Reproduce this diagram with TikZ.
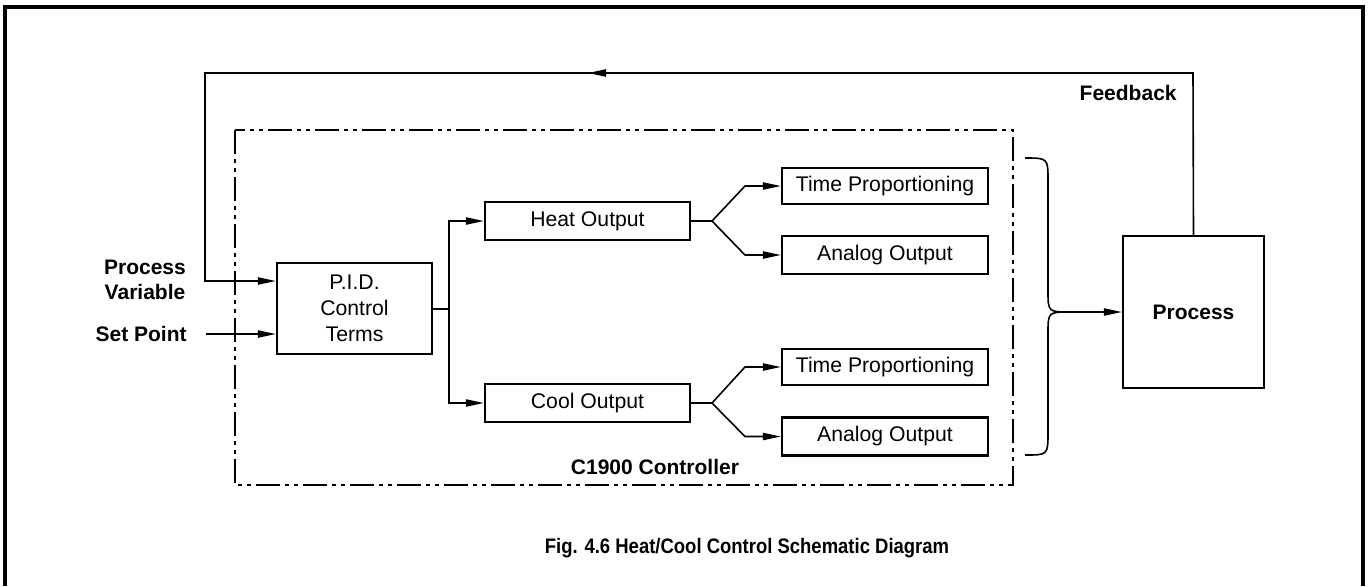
\documentclass[tikz,border=0pt]{standalone}
\usepackage{fontspec}
\usepackage{graphicx}
\setmainfont{Liberation Sans}
\usetikzlibrary{arrows.meta}
\begin{document}
\begin{tikzpicture}[x=0.5pt,y=-0.5pt,
  blk/.style={draw,line width=1.1pt,inner sep=0pt,font=\fontsize{10.6}{13}\selectfont,align=center},
  conn/.style={line width=0.8pt},
  arr/.style={conn,-{Triangle[length=9pt,width=3.6pt]}},
  lbl/.style={font=\fontsize{10.5}{12.5}\selectfont\bfseries,inner sep=0pt,align=center},
  dashdot/.style={line width=1.1pt,dash pattern=on 12pt off 2.5pt on 2pt off 2.5pt on 2pt off 2.5pt}]
\useasboundingbox (0,0) rectangle (1372,586);
% frame
\draw[line width=1.6pt] (5,586) -- (5,7) -- (1363,7) -- (1363,586);
% controller boundary
\draw[dashdot] (235,130) rectangle (1013,485);
% blocks
\node[blk,minimum width=77.5pt,minimum height=45.5pt] (pid) at (354.5,308.5) {P.I.D.\\Control\\Terms};
\node[blk,minimum width=102.5pt,minimum height=19pt] (heat) at (587.5,221) {Heat Output};
\node[blk,minimum width=102.5pt,minimum height=19pt] (cool) at (587.5,403) {Cool Output};
\node[blk,minimum width=103pt,minimum height=18pt] (tp1) at (885,186) {Time Proportioning};
\node[blk,minimum width=103pt,minimum height=19pt] (an1) at (885,255) {Analog Output};
\node[blk,minimum width=103pt,minimum height=18pt] (tp2) at (885,367) {Time Proportioning};
\node[blk,minimum width=103pt,minimum height=19pt] (an2) at (885,436.5) {Analog Output};
\node[blk,minimum width=70.5pt,minimum height=76pt,font=\fontsize{10.5}{12}\selectfont\bfseries] (proc) at (1193.5,312) {Process};
% labels
\node[lbl] (pv) at (145,280) {Process\\Variable};
\node[lbl,anchor=east] (sp) at (187,334) {Set Point};
\node[lbl,anchor=east] (fb) at (1177,93) {Feedback};
\node[lbl] (ctl) at (655,467) {C1900 Controller};
\node[lbl,font=\fontsize{10.5}{12}\selectfont\bfseries] (cap) at (747,548) {\scalebox{0.88}[1]{Fig. 4.6 Heat/Cool Control Schematic Diagram}};
% coordinates
\coordinate (pvin) at (205,281);
\coordinate (spin) at (206,334);
\coordinate (junc) at (449,309);
\coordinate (hj) at (712,221);
\coordinate (cj) at (712,403);
\coordinate (tip) at (1070,312);
% inputs
\draw[arr] (proc.north) -- (1193,73) -- (205,73) -- (pvin) -- (pid.west |- pvin);
\draw[arr] (1193,73) -- (588,73);
\draw[arr] (spin) -- (pid.west |- spin);
% pid to outputs
\draw[conn] (pid.east |- junc) -- (junc);
\draw[arr] (junc) -- (449,221) -- (heat.west);
\draw[arr] (junc) -- (449,403) -- (cool.west);
% heat branch
\draw[conn] (heat.east) -- (hj);
\draw[arr] (hj) -- (745,186) -- (tp1.west);
\draw[arr] (hj) -- (745,255) -- (an1.west);
% cool branch
\draw[conn] (cool.east) -- (cj);
\draw[arr] (cj) -- (745,367) -- (tp2.west);
\draw[arr] (cj) -- (745,436.5) -- (an2.west);
% brace
\draw[conn] (1025,158) .. controls (1048,158) .. (1048,181) -- (1048,290) .. controls (1048,312) .. (tip);
\draw[conn] (tip) .. controls (1048,312) .. (1048,334) -- (1048,432) .. controls (1048,455) .. (1025,455);
\draw[arr] (tip) -- (proc.west);
\end{tikzpicture}
\end{document}
